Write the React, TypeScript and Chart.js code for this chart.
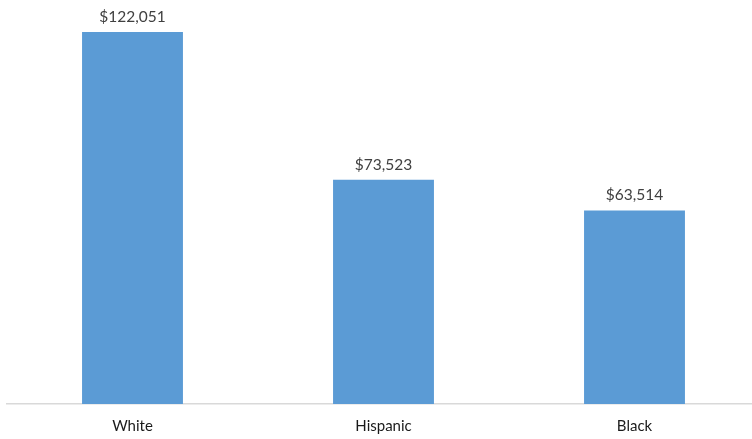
import React, { useEffect, useRef } from "react";
import { Chart, registerables } from "chart.js";

Chart.register(...registerables);

const categories = ["White", "Hispanic", "Black"];
const values = [122051, 73523, 63514];
const valueLabels = ["$122,051", "$73,523", "$63,514"];

const labelPlugin = {
  id: "valueLabels",
  afterDatasetsDraw(chart: any) {
    const ctx = chart.ctx;
    const meta = chart.getDatasetMeta(0);
    ctx.save();
    ctx.font = "15.5px Lato";
    ctx.fillStyle = "#404040";
    ctx.textAlign = "center";
    ctx.textBaseline = "middle";
    meta.data.forEach((el: any, i: number) => {
      ctx.fillText(valueLabels[i], el.x, el.y - 15);
    });
    ctx.restore();
  },
};

export default function App() {
  const ref = useRef<HTMLCanvasElement | null>(null);
  useEffect(() => {
    document.body.style.margin = "0";
    document.body.style.overflow = "hidden";
    const chart = new Chart(ref.current!, {
      type: "bar",
      data: {
        labels: categories,
        datasets: [
          {
            data: values,
            backgroundColor: "#5b9bd5",
            borderWidth: 0,
            barPercentage: 1,
            categoryPercentage: 0.402,
          },
        ],
      },
      options: {
        animation: false,
        responsive: false,
        maintainAspectRatio: false,
        layout: { padding: { top: 8, bottom: 5, left: 7, right: 0 } },
        plugins: { legend: { display: false }, tooltip: { enabled: false } },
        scales: {
          x: {
            grid: { display: false, drawTicks: false },
            border: { display: true, color: "#d9d9d9", width: 1.5 },
            ticks: { color: "#1a1a1a", font: { family: "Lato", size: 15 }, padding: 13 },
          },
          y: {
            display: false,
            min: 0,
            max: 129900,
          },
        },
      },
      plugins: [labelPlugin],
    });
    return () => chart.destroy();
  }, []);
  return (
    <div style={{ position: "fixed", left: 0, top: 0, width: 752, height: 439, overflow: "hidden", background: "#fff" }}>
      <canvas ref={ref} width={760} height={453} style={{ width: 760, height: 453, display: "block" }} />
    </div>
  );
}
